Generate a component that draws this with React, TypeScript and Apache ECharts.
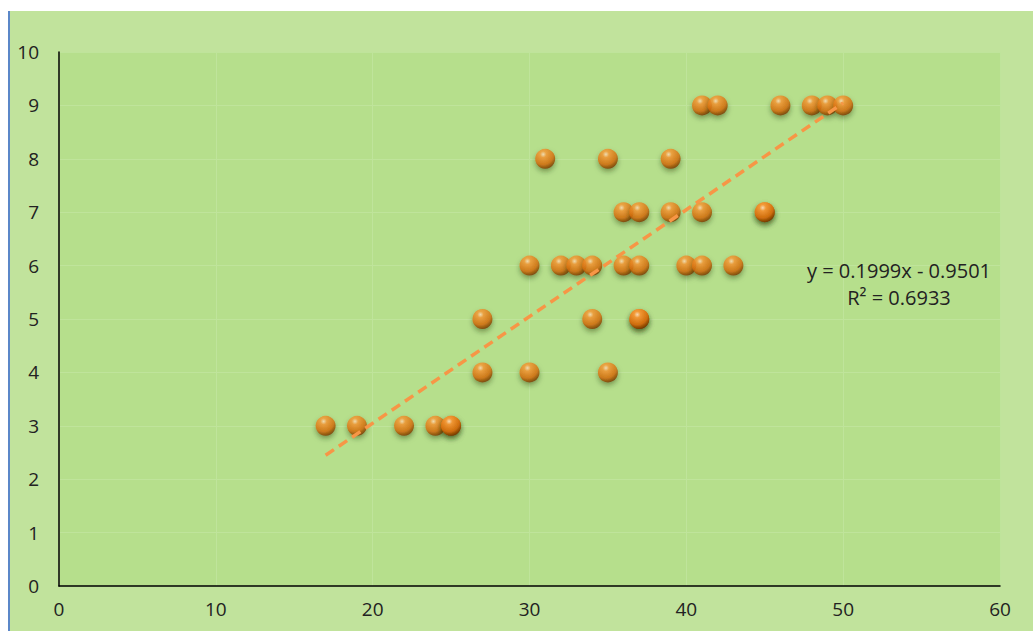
import React, { useEffect, useRef } from "react";
import * as echarts from "echarts";

const xValues = [41, 42, 46, 48, 49, 50, 31, 35, 39, 36, 37, 39, 41, 45, 45, 30, 32, 33, 34, 36, 37, 40, 41, 43, 27, 34, 37, 37, 27, 30, 35, 17, 19, 22, 24, 25, 25];
const yValues = [9, 9, 9, 9, 9, 9, 8, 8, 8, 7, 7, 7, 7, 7, 7, 6, 6, 6, 6, 6, 6, 6, 6, 6, 5, 5, 5, 5, 4, 4, 4, 3, 3, 3, 3, 3, 3];
const slope = 0.1999;
const intercept = -0.9501;
const rSquared = 0.6933;
const trendRange = [17, 50];
const xTicks = [0, 10, 20, 30, 40, 50, 60];
const yTicks = [0, 1, 2, 3, 4, 5, 6, 7, 8, 9, 10];

export default function App() {
  const ref = useRef<HTMLDivElement>(null);
  useEffect(() => {
    if (!ref.current) return;
    const chart = echarts.init(ref.current, null, { renderer: "svg" });
    const points = xValues.map((x, i) => [x, yValues[i]]);
    const trend = trendRange.map((x) => [x, slope * x + intercept]);
    const sphere = new echarts.graphic.RadialGradient(0.4, 0.28, 0.72, [
      { offset: 0, color: "#ffe2bc" },
      { offset: 0.22, color: "#f99a35" },
      { offset: 0.7, color: "#d8700c" },
      { offset: 1, color: "#7a3a00" },
    ]);
    const font = "'Open Sans', 'Noto Sans', sans-serif";
    chart.setOption({
      animation: false,
      backgroundColor: "#c1e39c",
      grid: {
        left: 49,
        right: 33,
        top: 41,
        bottom: 45,
        show: true,
        backgroundColor: "#b6df8c",
        borderWidth: 0,
      },
      xAxis: {
        type: "value",
        min: xTicks[0],
        max: xTicks[xTicks.length - 1],
        interval: 10,
        axisLine: { show: true, onZero: false, lineStyle: { color: "#000", width: 1.5 } },
        axisTick: { show: false },
        splitLine: { show: true, lineStyle: { color: "#bfe49b", width: 1 } },
        axisLabel: { color: "#222", fontSize: 19, fontFamily: font, margin: 13 },
      },
      yAxis: {
        type: "value",
        min: yTicks[0],
        max: yTicks[yTicks.length - 1],
        interval: 1,
        axisLine: { show: true, onZero: false, lineStyle: { color: "#000", width: 1.5 } },
        axisTick: { show: false },
        splitLine: { show: true, lineStyle: { color: "#bfe49b", width: 1 } },
        axisLabel: { color: "#222", fontSize: 19, fontFamily: font, margin: 20 },
      },
      series: [
        {
          type: "line",
          data: trend,
          symbol: "none",
          z: 3,
          lineStyle: { color: "#f79646", width: 3.5, type: [10, 6] },
        },
        {
          type: "scatter",
          data: points,
          symbolSize: 20,
          z: 2,
          itemStyle: {
            color: sphere,
            shadowColor: "rgba(30,50,0,0.5)",
            shadowBlur: 5,
            shadowOffsetY: 3,
          },
        },
      ],
      graphic: [
        {
          type: "text",
          z: 100,
          x: 889,
          y: 259,
          style: {
            text: `y = ${slope.toFixed(4)}x - ${Math.abs(intercept).toFixed(4)}`,
            fill: "#222",
            font: `20px ${font}`,
            textAlign: "center",
            textVerticalAlign: "middle",
          },
        },
        {
          type: "text",
          z: 100,
          x: 889,
          y: 286,
          style: {
            text: `R² = ${rSquared.toFixed(4)}`,
            fill: "#222",
            font: `20px ${font}`,
            textAlign: "center",
            textVerticalAlign: "middle",
          },
        },
      ],
    });
    return () => chart.dispose();
  }, []);
  return (
    <div
      ref={ref}
      style={{
        position: "absolute",
        left: 8,
        top: 11,
        width: 1025,
        height: 620,
        borderLeft: "2px solid #5b87c8",
        boxSizing: "border-box",
      }}
    />
  );
}
